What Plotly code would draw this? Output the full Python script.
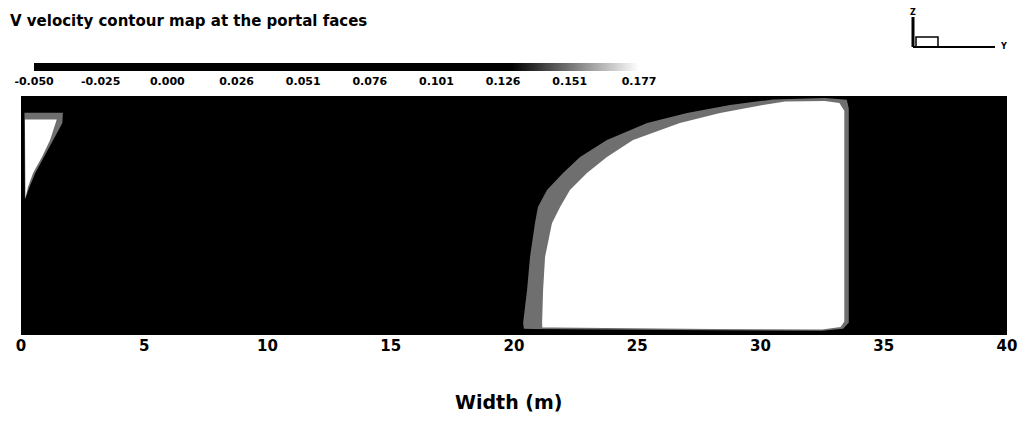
import plotly.graph_objects as go
from plotly.colors import sample_colorscale

# ---------------- data ----------------
V_MIN, V_MAX = -0.050, 0.177
cbar_ticks = [-0.050, -0.025, 0.000, 0.026, 0.051, 0.076, 0.101, 0.126, 0.151, 0.177]
cbar_text = ["-0.050", "-0.025", "0.000", "0.026", "0.051", "0.076",
             "0.101", "0.126", "0.151", "0.177"]
width_ticks = [0, 5, 10, 15, 20, 25, 30, 35, 40]
WIDTH_M = [0, 40]
HEIGHT_M = [0, 9.7]
background_v = [[0.0]]          # the dark field (V below ~0.13 m/s)

band_level = 0.150              # grey transition contour
core_level = 0.177              # white core (max V)

# right-hand high-velocity zone
right_band_x = [20.40, 20.37, 20.53, 20.65, 20.85, 20.97, 21.34, 21.99, 22.68, 23.77,
                25.40, 27.02, 28.76, 30.50, 32.60, 33.50, 33.58, 33.58, 33.35, 32.50,
                28.00, 24.00, 20.80]
right_band_y = [0.25, 0.49, 1.83, 3.17, 4.54, 5.19, 5.88, 6.57, 7.22, 7.91,
                8.60, 9.01, 9.33, 9.56, 9.62, 9.55, 9.20, 0.50, 0.25, 0.17,
                0.19, 0.22, 0.24]
right_core_x = [21.15, 21.14, 21.18, 21.26, 21.54, 21.87, 22.27, 22.96, 23.77, 24.83,
                26.73, 28.36, 30.10, 31.00, 32.60, 33.20, 33.40, 33.40, 33.25, 32.50,
                28.00, 24.00, 21.60]
right_core_y = [0.30, 0.49, 1.83, 3.17, 4.54, 5.19, 5.88, 6.57, 7.22, 7.91,
                8.60, 9.01, 9.33, 9.48, 9.50, 9.42, 9.10, 0.55, 0.32, 0.22,
                0.24, 0.28, 0.30]

# left-hand small zone
left_band_x = [0.14, 1.70, 1.68, 1.30, 0.95, 0.58, 0.34, 0.16]
left_band_y = [9.02, 9.02, 8.60, 7.91, 7.22, 6.57, 6.00, 5.50]
left_core_x = [0.16, 1.45, 1.18, 0.85, 0.49, 0.28, 0.18]
left_core_y = [8.75, 8.75, 7.91, 7.22, 6.57, 6.00, 5.55]

# ---------------- figure ----------------
colorscale = [[0.0, "#000000"], [0.79, "#000000"], [1.0, "#ffffff"]]


def level_color(v):
    return sample_colorscale(colorscale, [(v - V_MIN) / (V_MAX - V_MIN)])[0]


FONT = "DejaVu Sans"
OFF = 8            # page body margin of the browser
FIG_W, FIG_H = 1030 - OFF, 421 - OFF

fig = go.Figure()

fig.add_trace(go.Heatmap(
    z=background_v, x=WIDTH_M, y=HEIGHT_M,
    zmin=V_MIN, zmax=V_MAX, colorscale=colorscale, hoverinfo="skip",
    colorbar=dict(
        orientation="h", xref="container", yref="container",
        x=(35 - OFF) / FIG_W, xanchor="left", xpad=0, ypad=0,
        y=(FIG_H - (63 - OFF)) / FIG_H, yanchor="top",
        len=605, lenmode="pixels", thickness=8, outlinewidth=0,
        tickvals=cbar_ticks, ticktext=cbar_text, ticks="",
        tickfont=dict(family=FONT, size=11, color="black", weight="bold"),
    ),
))

for bx, by, cx, cy in [(right_band_x, right_band_y, right_core_x, right_core_y),
                       (left_band_x, left_band_y, left_core_x, left_core_y)]:
    fig.add_trace(go.Scatter(x=bx, y=by, fill="toself", mode="lines",
                             line=dict(width=0, color=level_color(band_level)),
                             fillcolor=level_color(band_level),
                             hoverinfo="skip", showlegend=False))
    fig.add_trace(go.Scatter(x=cx, y=cy, fill="toself", mode="lines",
                             line=dict(width=0, color=level_color(core_level)),
                             fillcolor=level_color(core_level),
                             hoverinfo="skip", showlegend=False))

# plot area in window pixels: x 21..1007, y 96..335


def px_x(p):
    return (p - 21) / 986


def px_y(p):
    return (335 - p) / 239


shapes = [
    dict(type="line", xref="paper", yref="paper", x0=px_x(913), x1=px_x(913),
         y0=px_y(17), y1=px_y(47), line=dict(color="black", width=3)),
    dict(type="line", xref="paper", yref="paper", x0=px_x(913), x1=px_x(995),
         y0=px_y(47), y1=px_y(47), line=dict(color="black", width=2)),
    dict(type="rect", xref="paper", yref="paper", x0=px_x(916), x1=px_x(938),
         y0=px_y(47), y1=px_y(37), line=dict(color="black", width=1.5)),
]

annotations = [
    dict(text="V velocity contour map at the portal faces", xref="paper", yref="paper",
         x=px_x(8), y=px_y(21), xanchor="left", yanchor="middle", showarrow=False,
         font=dict(family=FONT, size=15, color="black", weight="bold")),
    dict(text="Width (m)", xref="paper", yref="paper",
         x=px_x(508), y=px_y(402), xanchor="center", yanchor="middle", showarrow=False,
         font=dict(family=FONT, size=19, color="black", weight="bold")),
    dict(text="Z", xref="paper", yref="paper", x=px_x(913), y=px_y(13),
         xanchor="center", yanchor="middle", showarrow=False,
         font=dict(family=FONT, size=8, color="black", weight="bold")),
    dict(text="Y", xref="paper", yref="paper", x=px_x(1003), y=px_y(47),
         xanchor="center", yanchor="middle", showarrow=False,
         font=dict(family=FONT, size=8, color="black", weight="bold")),
]

fig.update_layout(
    width=FIG_W, height=FIG_H,
    margin=dict(l=21 - OFF, r=1030 - 1007, t=96 - OFF, b=421 - 335, autoexpand=False),
    paper_bgcolor="white", plot_bgcolor="black",
    showlegend=False,
    shapes=shapes, annotations=annotations,
    xaxis=dict(range=WIDTH_M, tickvals=width_ticks, ticks="", showgrid=False,
               zeroline=False, showline=False,
               tickfont=dict(family=FONT, size=15, color="black", weight="bold")),
    yaxis=dict(range=HEIGHT_M, visible=False, showgrid=False, zeroline=False),
)

fig.write_html("out.html")
